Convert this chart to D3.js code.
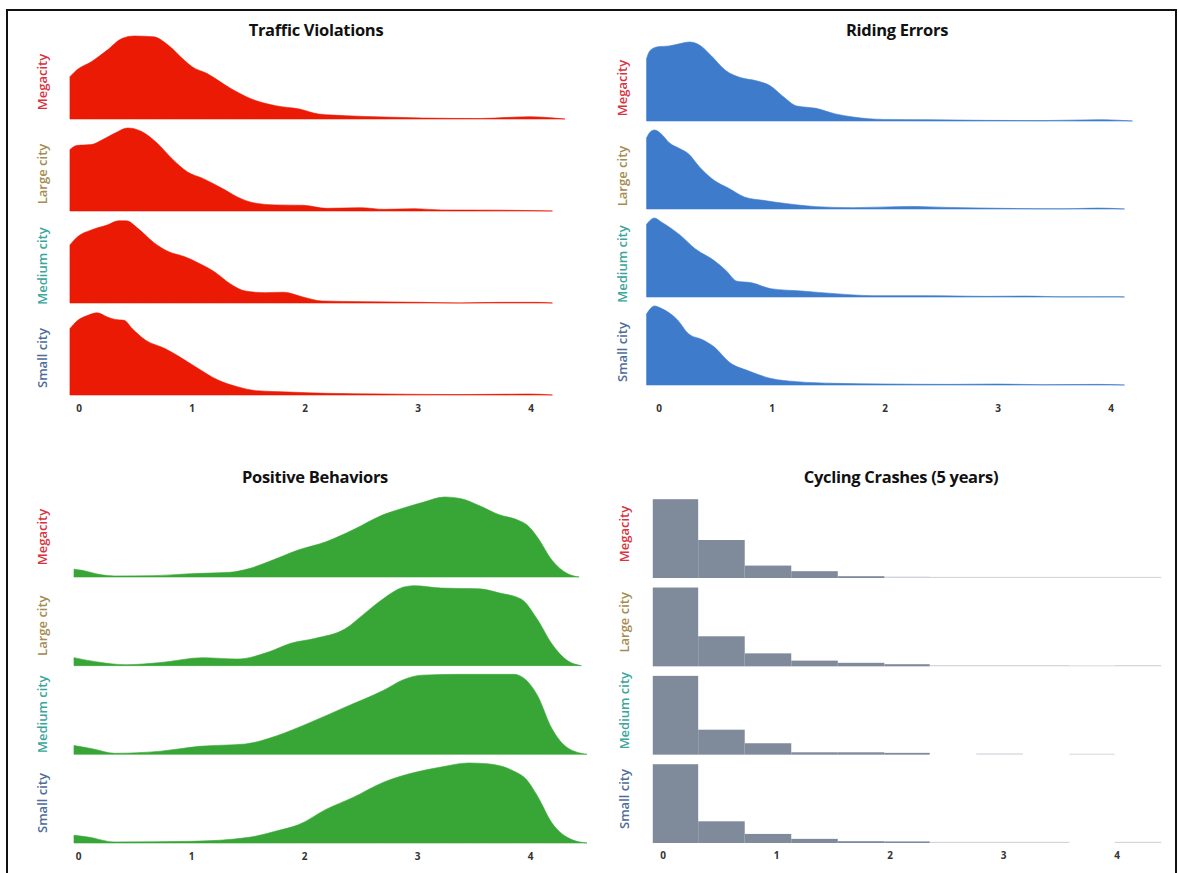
<!DOCTYPE html>
<html><head><meta charset="utf-8">
<script src="https://cdn.jsdelivr.net/npm/d3@7"></script>
<style>body{margin:0;background:#fff}svg{display:block}</style>
</head><body>
<svg id="c" width="1179" height="873"></svg>
<script>
// ---------- DATA ----------
const cities = ["Megacity", "Large city", "Medium city", "Small city"];
const xTicks = [0, 1, 2, 3, 4];
const panelTitles = ["Traffic Violations", "Riding Errors", "Positive Behaviors", "Cycling Crashes (5 years)"];

// Traffic Violations densities: [score, relative height]
const trafficMegacity = [[-0.08,0.51],[-0.02,0.59],[0.11,0.69],[0.25,0.83],[0.38,0.97],[0.49,1.0],[0.66,0.99],[0.79,0.89],[0.93,0.71],[1.0,0.63],[1.13,0.55],[1.34,0.37],[1.51,0.25],[1.74,0.16],[1.95,0.12],[2.12,0.06],[2.36,0.04],[2.7,0.024],[3.04,0.012],[3.55,0.006],[3.82,0.02],[3.99,0.028],[4.12,0.02],[4.3,0]];
const trafficLarge = [[-0.08,0.74],[-0.02,0.79],[0.11,0.8],[0.21,0.86],[0.32,0.94],[0.43,1.0],[0.55,0.96],[0.69,0.82],[0.83,0.62],[0.96,0.47],[1.1,0.39],[1.27,0.27],[1.4,0.17],[1.54,0.1],[1.74,0.073],[1.98,0.069],[2.19,0.032],[2.49,0.04],[2.7,0.02],[2.97,0.028],[3.21,0.012],[3.72,0.01],[4.19,0]];
const trafficMedium = [[-0.08,0.7],[-0.02,0.79],[0.11,0.88],[0.25,0.94],[0.35,0.99],[0.42,0.99],[0.52,0.9],[0.66,0.73],[0.79,0.62],[0.93,0.56],[1.06,0.48],[1.2,0.375],[1.34,0.23],[1.47,0.145],[1.64,0.125],[1.81,0.13],[1.98,0.073],[2.15,0.024],[2.53,0.016],[3.04,0.008],[3.38,0.0],[3.72,0.008],[4.06,0.008],[4.19,0]];
const trafficSmall = [[-0.08,0.8],[-0.02,0.89],[0.08,0.96],[0.16,0.99],[0.25,0.94],[0.32,0.91],[0.4,0.9],[0.47,0.8],[0.59,0.66],[0.76,0.56],[0.89,0.46],[1.03,0.34],[1.23,0.18],[1.4,0.1],[1.57,0.052],[1.85,0.036],[2.19,0.02],[2.7,0.012],[3.38,0.005],[3.99,0.012],[4.19,0]];

// Riding Errors densities
const ridingMegacity = [[-0.11,0.79],[-0.08,0.89],[-0.01,0.94],[0.09,0.95],[0.19,0.98],[0.27,1.0],[0.36,0.96],[0.46,0.83],[0.59,0.64],[0.72,0.55],[0.86,0.51],[0.99,0.44],[1.09,0.32],[1.22,0.19],[1.39,0.16],[1.56,0.09],[1.72,0.05],[1.99,0.02],[2.39,0.017],[2.89,0.008],[3.39,0.005],[3.89,0.017],[4.19,0]];
const ridingLarge = [[-0.11,0.9],[-0.08,0.97],[-0.04,1.0],[0.02,0.95],[0.09,0.84],[0.19,0.76],[0.26,0.7],[0.36,0.53],[0.49,0.36],[0.62,0.26],[0.76,0.15],[0.92,0.11],[1.12,0.07],[1.39,0.03],[1.72,0.017],[2.22,0.033],[2.56,0.02],[3.06,0.008],[3.56,0.002],[3.89,0.012],[4.12,0]];
const ridingMedium = [[-0.11,0.92],[-0.04,1.0],[0.02,0.95],[0.19,0.78],[0.32,0.61],[0.49,0.46],[0.59,0.34],[0.69,0.2],[0.82,0.18],[0.99,0.105],[1.26,0.076],[1.56,0.042],[1.89,0.017],[2.39,0.017],[2.89,0.008],[3.26,0.012],[3.56,0.002],[4.06,0.004],[4.12,0]];
const ridingSmall = [[-0.11,0.9],[-0.04,1.0],[0.02,0.97],[0.16,0.83],[0.26,0.65],[0.39,0.57],[0.49,0.48],[0.62,0.29],[0.79,0.18],[0.99,0.083],[1.22,0.042],[1.56,0.021],[1.99,0.013],[2.56,0.008],[2.99,0.012],[3.39,0.004],[3.89,0.008],[4.12,0]];

// Positive Behaviors densities
const positiveMegacity = [[-0.04,0.097],[0.03,0.084],[0.19,0.03],[0.32,0.013],[0.66,0.017],[1.0,0.042],[1.34,0.059],[1.51,0.105],[1.68,0.19],[1.95,0.34],[2.19,0.44],[2.43,0.59],[2.7,0.78],[2.87,0.86],[3.04,0.93],[3.24,1.0],[3.38,0.98],[3.55,0.89],[3.72,0.78],[3.89,0.71],[3.97,0.65],[4.06,0.5],[4.19,0.21],[4.33,0.04],[4.43,0]];
const positiveLarge = [[-0.04,0.1],[0.15,0.05],[0.42,0.012],[0.73,0.04],[1.1,0.1],[1.41,0.083],[1.68,0.17],[1.88,0.28],[2.09,0.34],[2.36,0.46],[2.53,0.65],[2.7,0.84],[2.87,0.98],[2.97,1.0],[3.21,0.97],[3.55,0.96],[3.72,0.91],[3.92,0.83],[4.06,0.58],[4.19,0.27],[4.33,0.06],[4.45,0]];
const positiveMedium = [[-0.04,0.11],[0.12,0.07],[0.32,0.013],[0.73,0.04],[1.07,0.1],[1.48,0.13],[1.75,0.23],[2.02,0.38],[2.36,0.59],[2.7,0.8],[2.87,0.93],[3.04,0.99],[3.38,1.0],[3.85,1.0],[3.96,0.93],[4.06,0.74],[4.19,0.32],[4.33,0.08],[4.5,0]];
const positiveSmall = [[-0.04,0.097],[0.08,0.076],[0.32,0.013],[1.0,0.021],[1.51,0.071],[1.75,0.15],[1.95,0.23],[2.19,0.42],[2.43,0.57],[2.7,0.76],[2.97,0.88],[3.21,0.95],[3.45,1.0],[3.62,0.99],[3.85,0.9],[3.96,0.8],[4.06,0.59],[4.19,0.25],[4.37,0.04],[4.5,0]];

// Cycling Crashes histogram: bin edges and relative bar heights
const crashBinEdges = [-0.09, 0.31, 0.72, 1.13, 1.54, 1.95, 2.35, 2.76, 3.17, 3.58, 3.98, 4.39];
const crashesMegacity = [1, 0.477, 0.149, 0.077, 0.013, 0.008, 0.004, 0.004, 0.004, 0.004, 0.004];
const crashesLarge = [1, 0.375, 0.156, 0.063, 0.035, 0.017, 0.006, 0.006, 0.006, 0.002, 0.006];
const crashesMedium = [1, 0.31, 0.136, 0.02, 0.02, 0.013, 0, 0.006, 0, 0.002, 0];
const crashesSmall = [1, 0.268, 0.106, 0.043, 0.013, 0.01, 0.005, 0.005, 0.005, 0, 0.005];

// ---------- STYLE / LAYOUT ----------
const cityColors = ["#d8343f", "#a58c4f", "#3aa69d", "#4e6d99"];
const panels = [
  {type:"ridge", series:[trafficMegacity, trafficLarge, trafficMedium, trafficSmall], color:"#ea1a04",
   x0:79, unit:113, b0:119, b1:395, peak:83, labelX:42, labelOff:37, titleX:316, titleY:30, tickY:408},
  {type:"ridge", series:[ridingMegacity, ridingLarge, ridingMedium, ridingSmall], color:"#3e7ccb",
   x0:659, unit:113, b0:121, b1:385, peak:79, labelX:622, labelOff:33, titleX:897, titleY:30, tickY:408},
  {type:"ridge", series:[positiveMegacity, positiveLarge, positiveMedium, positiveSmall], color:"#38a636",
   x0:78.5, unit:113, b0:577, b1:843, peak:80, labelX:42, labelOff:40, titleX:315, titleY:477, tickY:856},
  {type:"hist", series:[crashesMegacity, crashesLarge, crashesMedium, crashesSmall], color:"#7f8a9a",
   x0:663, unit:113.5, b0:578, b1:843, peak:78, labelX:624, labelOff:44, titleX:901, titleY:477, tickY:855}
];

const svg = d3.select("#c");
svg.append("rect").attr("width",1179).attr("height",873).attr("fill","#fff");

panels.forEach((p, pi) => {
  const g = svg.append("g");
  const x = d3.scaleLinear().domain([0, 4]).range([p.x0, p.x0 + 4 * p.unit]);
  const rowY = d3.scalePoint().domain(cities).range([p.b0, p.b1]);

  // title
  g.append("text").attr("x", p.titleX).attr("y", p.titleY).attr("dy", "0.36em")
    .attr("text-anchor", "middle").attr("font-family", "'Open Sans', sans-serif")
    .attr("font-weight", 700).attr("font-size", 16.5).attr("fill", "#111")
    .attr("letter-spacing", -0.3)
    .text(panelTitles[pi]);

  cities.forEach((c, ci) => {
    const base = rowY(c);
    const y = d3.scaleLinear().domain([0, 1]).range([base, base - p.peak]);
    if (p.type === "ridge") {
      const area = d3.area().x(d => x(d[0])).y0(base).y1(d => y(d[1])).curve(d3.curveMonotoneX);
      g.append("path").datum(p.series[ci]).attr("d", area)
        .attr("fill", p.color).attr("stroke", p.color).attr("stroke-width", 0.6);
    } else {
      const vals = p.series[ci];
      g.selectAll(null).data(vals).enter().append("rect")
        .attr("x", (d, i) => x(crashBinEdges[i]))
        .attr("width", (d, i) => x(crashBinEdges[i + 1]) - x(crashBinEdges[i]))
        .attr("y", d => y(d) - (d > 0 ? 0.8 : 0))
        .attr("height", d => base - y(d) + (d > 0 ? 0.8 : 0))
        .attr("fill", p.color)
        .attr("fill-opacity", d => d >= 0.01 ? 1 : (d > 0 ? 0.35 : 0));
    }
    // row label
    const ly = base - p.labelOff;
    g.append("text").attr("transform", `translate(${p.labelX},${ly}) rotate(-90)`)
      .attr("text-anchor", "middle").attr("dy", "0.35em")
      .attr("font-family", "'Open Sans', sans-serif").attr("font-size", 13)
      .attr("font-weight", 600)
      .attr("fill", cityColors[ci]).text(c);
  });

  // x axis tick labels
  g.selectAll(null).data(xTicks).enter().append("text")
    .attr("x", d => x(d)).attr("y", p.tickY).attr("dy", "0.35em")
    .attr("text-anchor", "middle").attr("font-family", "'Open Sans', sans-serif")
    .attr("font-weight", 700).attr("font-size", 10).attr("fill", "#333")
    .text(d => d);
});

// outer frame
svg.append("rect").attr("x", 7).attr("y", 10).attr("width", 1169).attr("height", 900)
  .attr("fill", "none").attr("stroke", "#111").attr("stroke-width", 2);
</script>
</body></html>
